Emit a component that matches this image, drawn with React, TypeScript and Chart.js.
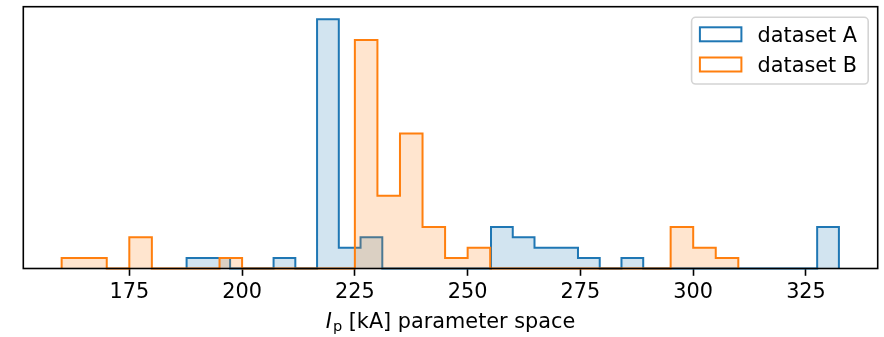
import React, { useEffect, useRef } from 'react';
import { Chart, registerables } from 'chart.js';

Chart.register(...registerables);

// ---- data ----
const seriesNames = ['dataset A', 'dataset B'];
const seriesColors = ['#1f77b4', '#ff7f0e'];
const seriesFills = ['rgba(31,119,180,0.2)', 'rgba(255,127,14,0.2)'];
// histogram bin ranges (30 equal-width bins each)
const binRangeA = [187.7, 332.3];
const countsA = [1, 1, 0, 0, 1, 0, 24, 2, 3, 0, 0, 0, 0, 0, 4, 3, 2, 2, 1, 0, 1, 0, 0, 0, 0, 0, 0, 0, 0, 4];
const binRangeB = [160, 310];
const countsB = [1, 1, 0, 3, 0, 0, 0, 1, 0, 0, 0, 0, 0, 22, 7, 13, 4, 1, 2, 0, 0, 0, 0, 0, 0, 0, 0, 4, 2, 1];
const xTicks = [175, 200, 225, 250, 275, 300, 325];
const xRange = [151.5, 340.9];
const yRange = [0, 25.2];

function binEdges(range: number[], n: number): number[] {
  const [lo, hi] = range;
  const out: number[] = [];
  for (let i = 0; i <= n; i++) out.push(lo + ((hi - lo) * i) / n);
  return out;
}

function stepPoints(range: number[], counts: number[]) {
  const e = binEdges(range, counts.length);
  const pts: { x: number; y: number }[] = [{ x: e[0], y: 0 }];
  counts.forEach((c, i) => {
    pts.push({ x: e[i], y: c });
    pts.push({ x: e[i + 1], y: c });
  });
  pts.push({ x: e[counts.length], y: 0 });
  return pts;
}

const FONT = '"DejaVu Sans", sans-serif';
const FS = 20.8;

const decorPlugin = {
  id: 'decor',
  afterDraw(chart: any) {
    const { ctx, chartArea: a } = chart;
    ctx.save();
    // frame (spines)
    ctx.strokeStyle = '#000';
    ctx.lineWidth = 1.6;
    ctx.strokeRect(a.left, a.top, a.right - a.left, a.bottom - a.top);

    // legend
    const lw = 176.6;
    const lh = 66.7;
    const lx = a.right - 9.5 - lw;
    const ly = a.top + 10.6;
    ctx.beginPath();
    if ((ctx as any).roundRect) (ctx as any).roundRect(lx, ly, lw, lh, 4);
    else ctx.rect(lx, ly, lw, lh);
    ctx.fillStyle = 'rgba(255,255,255,0.8)';
    ctx.fill();
    ctx.strokeStyle = '#d4d4d4';
    ctx.lineWidth = 1.6;
    ctx.stroke();
    const rowCenters = [17.0, 47.2];
    const baselines = [24.4, 54.6];
    seriesNames.forEach((name, i) => {
      ctx.strokeStyle = seriesColors[i];
      ctx.lineWidth = 2;
      ctx.strokeRect(lx + 8.3, ly + rowCenters[i] - 7, 41.5, 14);
      ctx.fillStyle = '#000';
      ctx.font = `${FS}px ${FONT}`;
      ctx.textBaseline = 'alphabetic';
      ctx.textAlign = 'left';
      ctx.fillText(name, lx + 66, ly + baselines[i]);
    });

    // x-axis label: I_p [kA] parameter space
    const mainFont = `${FS}px ${FONT}`;
    const italFont = `oblique ${FS}px ${FONT}`;
    const subFont = `${FS * 0.7}px ${FONT}`;
    const rest = ' [kA] parameter space';
    ctx.font = italFont;
    const wI = ctx.measureText('I').width;
    ctx.font = subFont;
    const wP = ctx.measureText('p').width;
    ctx.font = mainFont;
    const wR = ctx.measureText(rest).width;
    const total = wI + 1 + wP + wR;
    const cx = (a.left + a.right) / 2;
    let x = cx - total / 2;
    const base = 328.3;
    ctx.fillStyle = '#000';
    ctx.textBaseline = 'alphabetic';
    ctx.textAlign = 'left';
    ctx.font = italFont;
    ctx.fillText('I', x, base);
    x += wI + 1;
    ctx.font = subFont;
    ctx.fillText('p', x, base + 3);
    x += wP;
    ctx.font = mainFont;
    ctx.fillText(rest, x, base);
    ctx.restore();
  },
};

export default function App() {
  const ref = useRef<HTMLCanvasElement | null>(null);
  useEffect(() => {
    if (!ref.current) return;
    const chart = new Chart(ref.current, {
      type: 'line',
      data: {
        datasets: [
          {
            label: seriesNames[0],
            data: stepPoints(binRangeA, countsA),
            borderColor: seriesColors[0],
            backgroundColor: seriesFills[0],
            borderWidth: 2,
            fill: 'origin',
            pointRadius: 0,
            tension: 0,
            clip: false as any,
            order: 1,
          },
          {
            label: seriesNames[1],
            data: stepPoints(binRangeB, countsB),
            borderColor: seriesColors[1],
            backgroundColor: seriesFills[1],
            borderWidth: 2,
            fill: 'origin',
            pointRadius: 0,
            tension: 0,
            clip: false as any,
            order: 0,
          },
        ],
      },
      options: {
        animation: false,
        responsive: true,
        maintainAspectRatio: false,
        layout: { padding: { left: 23.3, right: 6.3, top: 6.7, bottom: 0 } },
        plugins: {
          legend: { display: false },
          tooltip: { enabled: false },
        },
        scales: {
          x: {
            type: 'linear',
            min: xRange[0],
            max: xRange[1],
            afterBuildTicks: (scale: any) => {
              scale.ticks = xTicks.map((v) => ({ value: v }));
            },
            afterFit: (scale: any) => {
              scale.height = 337 - 268.5;
            },
            grid: {
              drawOnChartArea: false,
              drawTicks: true,
              tickLength: 7.3,
              tickWidth: 1.6,
              tickColor: '#000',
            },
            border: { display: false },
            ticks: {
              color: '#000',
              font: { family: FONT, size: FS },
              padding: 4,
              maxRotation: 0,
              autoSkip: false,
            },
          },
          y: {
            display: false,
            min: yRange[0],
            max: yRange[1],
          },
        },
      },
      plugins: [decorPlugin],
    } as any);
    return () => chart.destroy();
  }, []);
  return (
    <div style={{ position: 'fixed', left: 0, top: 0, width: 884, height: 337, background: '#fff' }}>
      <canvas ref={ref} />
    </div>
  );
}
